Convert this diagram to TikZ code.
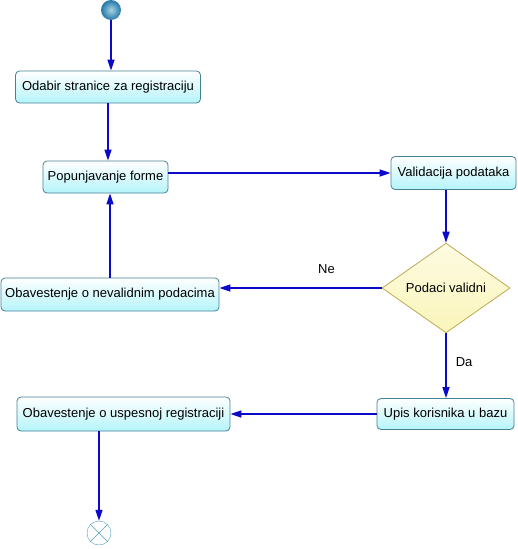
\documentclass[tikz,border=0pt]{standalone}
\usepackage{fontspec}
\setmainfont{Liberation Sans}
\usetikzlibrary{shapes.geometric,arrows.meta}
\definecolor{flow}{RGB}{10,10,200}
\definecolor{actborder}{RGB}{70,130,150}
\definecolor{actfill}{RGB}{180,244,250}
\definecolor{decborder}{RGB}{190,170,80}
\definecolor{decfill}{RGB}{250,245,185}
\definecolor{endcol}{RGB}{80,160,185}
\definecolor{ballin}{RGB}{170,210,225}
\definecolor{ballout}{RGB}{35,120,170}
\begin{document}
\begin{tikzpicture}[x=1pt, y=-1pt, font=\fontsize{13}{15}\selectfont, line join=round,
        >={Triangle[length=11pt,width=7pt]},
        act/.style={draw=actborder, line width=0.8pt, rounded corners=4pt, top color=white, bottom color=actfill, minimum height=32pt, inner sep=0pt},
        dec/.style={diamond, draw=decborder, line width=0.8pt, top color=decfill!40, bottom color=decfill, minimum width=128pt, minimum height=65pt, inner sep=0pt},
        flowline/.style={->, draw=flow, line width=1.5pt},
        lbl/.style={inner sep=1pt}]
        \useasboundingbox[fill=white] (0,0) rectangle (517,549);
        \node[circle, inner color=ballin, outer color=ballout, minimum size=20pt, inner sep=0pt] (start) at (111,10) {};
        \node[act, minimum width=185pt] (odabir) at (108,87) {Odabir stranice za registraciju};
        \node[act, minimum width=125pt] (popun) at (105.5,177) {Popunjavanje forme};
        \node[act, minimum width=125pt, minimum height=33pt] (valid) at (453.5,173) {Validacija podataka};
        \node[dec] (dec) at (446,288) {Podaci validni};
        \node[act, minimum width=218pt, minimum height=33pt] (nevalid) at (110,294.5) {Obavestenje o nevalidnim podacima};
        \node[act, minimum width=137pt, minimum height=31pt] (upis) at (445.5,414) {Upis korisnika u bazu};
        \node[act, minimum width=213pt, minimum height=34pt] (uspesno) at (123.5,414) {Obavestenje o uspesnoj registraciji};
        \node[circle, draw=endcol, fill=white, minimum size=24pt, inner sep=0pt] (end) at (99,533) {};
        \draw[endcol] (end.north west)--(end.south east) (end.north east)--(end.south west);
        \draw[flowline] (start)--(odabir.north -| start);
        \draw[flowline] (odabir)--(popun.north -| odabir);
        \draw[flowline] (popun.east |- valid)--(valid.west);
        \draw[flowline] (valid.south -| dec)--(dec.north);
        \draw[flowline] (dec.west)--(nevalid.east |- dec.west) node[lbl, pos=.34, above=13pt]{Ne};
        \draw[flowline] (nevalid)--(popun.south -| nevalid);
        \draw[flowline] (dec.south)--(upis.north -| dec.south) node[lbl, pos=.44, right=8pt]{Da};
        \draw[flowline] (upis.west)--(uspesno.east |- upis.west);
        \draw[flowline] (uspesno.south -| end)--(end.north);
    \end{tikzpicture}
\end{document}
